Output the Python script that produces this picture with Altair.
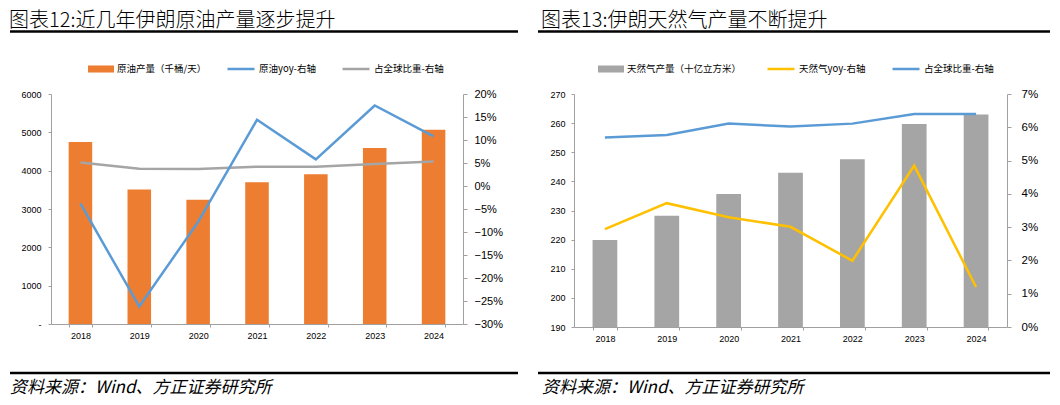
import altair as alt
import pandas as pd

years = ["2018", "2019", "2020", "2021", "2022", "2023", "2024"]

oil_output = [4750, 3510, 3240, 3700, 3905, 4590, 5070]
oil_yoy = [-0.038, -0.262, -0.078, 0.144, 0.058, 0.175, 0.108]
oil_share = [0.051, 0.0375, 0.037, 0.042, 0.042, 0.048, 0.053]

gas_output = [219.9, 228.2, 235.7, 243.0, 247.6, 259.7, 263.0]
gas_yoy = [0.0294, 0.0372, 0.0330, 0.0301, 0.0199, 0.0485, 0.0120]
gas_share = [0.0569, 0.0577, 0.0611, 0.0602, 0.0611, 0.0640, 0.0640]

left_title = "图表12:近几年伊朗原油产量逐步提升"
right_title = "图表13:伊朗天然气产量不断提升"
source_text = "资料来源：Wind、方正证券研究所"

oil_labels = ["原油产量（千桶/天）", "原油yoy-右轴", "占全球比重-右轴"]
gas_labels = ["天然气产量（十亿立方米）", "天然气yoy-右轴", "占全球比重-右轴"]

oil_left_ticks = [0, 1000, 2000, 3000, 4000, 5000, 6000]
oil_right_ticks = [-0.30, -0.25, -0.20, -0.15, -0.10, -0.05, 0.0, 0.05, 0.10, 0.15, 0.20]
gas_left_ticks = [190, 200, 210, 220, 230, 240, 250, 260, 270]
gas_right_ticks = [0.0, 0.01, 0.02, 0.03, 0.04, 0.05, 0.06, 0.07]

ORANGE = "#ED7D31"
BLUE = "#5B9BD5"
GRAY = "#A5A5A5"
YELLOW = "#FFC000"
AXIS = "#A0A0A0"
CJK = "Noto Sans CJK SC"
LATIN = "Liberation Sans"


def deco_text(txt, x, y, size, style="normal", baseline="alphabetic", weight=400):
    return alt.Chart(pd.DataFrame({"t": [txt]})).mark_text(
        align="left", baseline=baseline, font=CJK, fontSize=size,
        fontStyle=style, fontWeight=weight, color="#000"
    ).encode(text="t:N", x=alt.value(x), y=alt.value(y))


def deco_rule(x1, x2, y):
    return alt.Chart(pd.DataFrame({"a": [0]})).mark_rule(
        color="#000", strokeWidth=2.5
    ).encode(x=alt.value(x1), x2=alt.value(x2), y=alt.value(y))


def panel(W, H, bars, yoy, share, labels, colors, left_dom, left_ticks,
          right_dom, right_ticks, left_expr, left_pad, right_pad, right_fs,
          title, title_x, rule_x1, rule_x2, leg_bar_x, leg_line_x):
    bar_label, yoy_label, share_label = labels
    bar_color, yoy_color, share_color = colors
    df_bar = pd.DataFrame({"year": years, "value": bars,
                           "series": [bar_label] * 7, "base": [left_dom[0]] * 7})
    df_line = pd.DataFrame({"year": years + years, "value": share + yoy,
                            "series": [share_label] * 7 + [yoy_label] * 7})

    xenc = alt.X("year:N", sort=years, title=None,
                 scale=alt.Scale(paddingInner=0.6, paddingOuter=0.3),
                 axis=alt.Axis(labelAngle=0, labelFont=LATIN, labelFontSize=9,
                               labelColor="#000", tickBand="extent", tickSize=3,
                               labelPadding=4, domainColor=AXIS, tickColor=AXIS))

    bar = alt.Chart(df_bar).mark_bar().encode(
        x=xenc,
        y=alt.Y("value:Q", title=None,
                scale=alt.Scale(domain=left_dom, nice=False, zero=False),
                axis=alt.Axis(values=left_ticks, format="d", labelExpr=left_expr,
                              labelFont=LATIN, labelFontSize=9, labelColor="#000",
                              tickSize=3, labelPadding=left_pad, grid=False,
                              domainColor=AXIS, tickColor=AXIS)),
        y2="base:Q",
        fill=alt.Fill("series:N",
                      scale=alt.Scale(domain=[bar_label], range=[bar_color]),
                      legend=alt.Legend(orient="none", legendX=leg_bar_x, legendY=-38,
                                        direction="horizontal", title=None,
                                        symbolType="M-1,-0.27H1V0.27H-1Z",
                                        symbolSize=676, symbolStrokeWidth=0,
                                        labelFont=CJK, labelFontSize=9.5,
                                        labelColor="#000", labelOffset=3, padding=0)),
    )

    lines = alt.Chart(df_line).mark_line(strokeWidth=2.5).encode(
        x=xenc,
        y=alt.Y("value:Q", title=None,
                scale=alt.Scale(domain=right_dom, nice=False, zero=False),
                axis=alt.Axis(orient="right", values=right_ticks, format=".0%",
                              labelFont=LATIN, labelFontSize=right_fs, labelColor="#000",
                              tickSize=4, labelPadding=right_pad, grid=False,
                              domainColor=AXIS, tickColor=AXIS)),
        stroke=alt.Stroke("series:N",
                          scale=alt.Scale(domain=[yoy_label, share_label],
                                          range=[yoy_color, share_color]),
                          legend=alt.Legend(orient="none", legendX=leg_line_x, legendY=-40,
                                            direction="horizontal", title=None,
                                            symbolType="stroke", symbolSize=729,
                                            symbolStrokeWidth=2.5,
                                            labelFont=CJK, labelFontSize=9.5,
                                            labelColor="#000", labelOffset=3,
                                            columnPadding=21, padding=0)),
        detail="series:N",
    )

    layers = alt.layer(
        bar, lines,
        deco_text(title, title_x, -67, 20, weight=300),
        deco_rule(rule_x1, rule_x2, -62.5),
        deco_rule(rule_x1, rule_x2, 279),
        deco_text(source_text, title_x + 1, 294, 17, style="italic", baseline="middle"),
    ).resolve_scale(y="independent").properties(width=W, height=H)
    return layers


left = panel(412, 230, oil_output, oil_yoy, oil_share, oil_labels,
             (ORANGE, BLUE, GRAY), [0, 6000], oil_left_ticks,
             [-0.30, 0.20], oil_right_ticks,
             "datum.value == 0 ? '-' : datum.label", 7, 7, 11,
             left_title, -42, -41, 467, 37, 175)

right = panel(433, 233, gas_output, gas_yoy, gas_share, gas_labels,
              (GRAY, YELLOW, BLUE), [190, 270], gas_left_ticks,
              [0.0, 0.07], gas_right_ticks,
              "datum.label", 6, 10, 11.5,
              right_title, -33, -36, 476, 24, 192)

chart = alt.hconcat(left, right, spacing=111, bounds="flush").resolve_scale(
    x="independent", y="independent", fill="independent", stroke="independent"
).properties(padding={"top": 3, "bottom": 4, "left": 0, "right": 0}).configure_view(stroke=None)

chart.save("out.html", embed_options={"renderer": "svg", "actions": False})
